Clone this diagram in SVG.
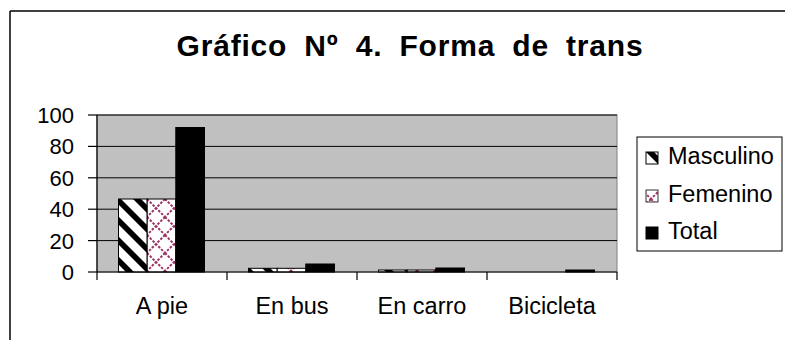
<svg xmlns="http://www.w3.org/2000/svg" width="785" height="340" viewBox="0 0 785 340">
<style>
text{font-family:"Liberation Sans",Arial,sans-serif;fill:#000}
.lbl{font-size:22px}
.lbl2{font-size:23.5px}
.title{font-size:30px;font-weight:bold;letter-spacing:0.8px;word-spacing:8px}
.grid{stroke:#000;stroke-width:1}
.axis{stroke:#000;stroke-width:1.2}
.bar{stroke:#000;stroke-width:1}
.m{fill:url(#pMasc)}
.f{fill:url(#pFem)}
.t{fill:#000}
</style>
<defs>
<pattern id="pMasc" patternUnits="userSpaceOnUse" width="20" height="20" x="118" y="0">
<rect width="20" height="20" fill="#fff"/>
<polygon points="0,0 4,0 20,16 20,20 16,20 0,4" fill="#000"/>
<polygon points="16,0 20,0 20,4" fill="#000"/>
<polygon points="0,16 4,20 0,20" fill="#000"/>
</pattern>
<pattern id="pFem" patternUnits="userSpaceOnUse" width="18" height="18" x="147" y="199">
<rect width="18" height="18" fill="#fff"/>
<path d="M0,0 L18,18 M18,0 L0,18" stroke="#993366" stroke-width="2" stroke-dasharray="2.5 1.5"/>
</pattern>
</defs>

<g id="frame">
<line x1="10" y1="11" x2="785" y2="11" stroke="#000" stroke-width="1.5"/>
<line x1="10" y1="11" x2="10" y2="340" stroke="#000" stroke-width="1.5"/>
</g>

<g id="title">
<text class="title" x="410" y="56" text-anchor="middle">Gráfico Nº 4. Forma de trans</text>
</g>

<g id="plot">
<rect x="97" y="115" width="520" height="157" fill="#c0c0c0" stroke="#808080" stroke-width="1"/>
<line class="grid" x1="97" y1="115" x2="617" y2="115"/>
<line class="grid" x1="97" y1="146.4" x2="617" y2="146.4"/>
<line class="grid" x1="97" y1="177.8" x2="617" y2="177.8"/>
<line class="grid" x1="97" y1="209.2" x2="617" y2="209.2"/>
<line class="grid" x1="97" y1="240.6" x2="617" y2="240.6"/>
</g>

<g id="bars">
<rect class="bar m" x="118.5" y="199" width="28.7" height="73"/>
<rect class="bar f" x="147.2" y="199" width="28.6" height="73"/>
<rect class="bar t" x="175.8" y="127.5" width="28.7" height="144.5"/>
<rect class="bar m" x="248.5" y="268.3" width="28.7" height="3.7"/>
<rect class="bar f" x="277.2" y="268.3" width="28.6" height="3.7"/>
<rect class="bar t" x="305.8" y="264" width="28.7" height="8"/>
<rect class="bar m" x="378.5" y="270" width="28.7" height="2"/>
<rect class="bar f" x="407.2" y="270" width="28.6" height="2"/>
<rect class="bar t" x="435.8" y="268" width="28.7" height="4"/>
<rect class="bar t" x="565.8" y="270" width="28.7" height="2"/>
</g>

<g id="axes">
<line class="axis" x1="97" y1="115" x2="97" y2="280"/>
<line class="axis" x1="97" y1="272" x2="617" y2="272"/>
<line class="axis" x1="88" y1="115" x2="97" y2="115"/>
<line class="axis" x1="88" y1="146.4" x2="97" y2="146.4"/>
<line class="axis" x1="88" y1="177.8" x2="97" y2="177.8"/>
<line class="axis" x1="88" y1="209.2" x2="97" y2="209.2"/>
<line class="axis" x1="88" y1="240.6" x2="97" y2="240.6"/>
<line class="axis" x1="88" y1="272" x2="97" y2="272"/>
<line class="axis" x1="227" y1="272" x2="227" y2="280"/>
<line class="axis" x1="357" y1="272" x2="357" y2="280"/>
<line class="axis" x1="487" y1="272" x2="487" y2="280"/>
<line class="axis" x1="617" y1="272" x2="617" y2="280"/>
</g>

<g id="ylabels">
<text class="lbl" x="74" y="123" text-anchor="end">100</text>
<text class="lbl" x="74" y="154.4" text-anchor="end">80</text>
<text class="lbl" x="74" y="185.8" text-anchor="end">60</text>
<text class="lbl" x="74" y="217.2" text-anchor="end">40</text>
<text class="lbl" x="74" y="248.6" text-anchor="end">20</text>
<text class="lbl" x="74" y="280" text-anchor="end">0</text>
</g>

<g id="xlabels">
<text class="lbl2" x="162" y="314" text-anchor="middle">A pie</text>
<text class="lbl2" x="292" y="314" text-anchor="middle">En bus</text>
<text class="lbl2" x="422" y="314" text-anchor="middle">En carro</text>
<text class="lbl2" x="552" y="314" text-anchor="middle">Bicicleta</text>
</g>

<g id="legend">
<rect x="637" y="137" width="145" height="114" fill="#fff" stroke="#000" stroke-width="1"/>
<rect x="646" y="152" width="12" height="12" fill="url(#pMasc)" stroke="#000" stroke-width="1"/>
<text class="lbl2" x="668" y="164">Masculino</text>
<rect x="646" y="190" width="12" height="12" fill="url(#pFem)" stroke="#333" stroke-width="1"/>
<text class="lbl2" x="668" y="202">Femenino</text>
<rect x="646" y="227" width="12" height="12" fill="#000" stroke="#000" stroke-width="1"/>
<text class="lbl2" x="668" y="239">Total</text>
</g>
</svg>
